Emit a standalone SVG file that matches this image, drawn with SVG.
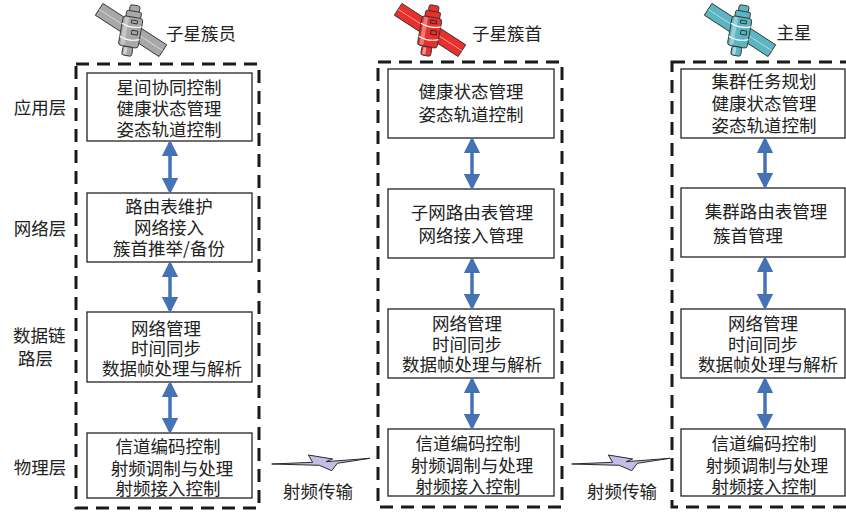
<svg xmlns="http://www.w3.org/2000/svg" xmlns:xlink="http://www.w3.org/1999/xlink" width="846" height="513" viewBox="0 0 846 513">
  <style>
    text { font-family: "Noto Sans CJK SC", "Liberation Serif", serif; font-size: 17.5px; fill: #222; dominant-baseline: central; }
    .c { text-anchor: middle; }
    .frame { fill: none; stroke: #1a1a1a; stroke-width: 3; stroke-dasharray: 13 8; }
    .box { fill: #fff; stroke: #222; stroke-width: 1.3; }
    .link { stroke: #4472b4; stroke-width: 3.5; fill: none; marker-start: url(#head); marker-end: url(#head); }
    .bolt { fill: #c6bce6; stroke: #2a2a2a; stroke-width: 1; stroke-linejoin: miter; }
    .sat-line { stroke: #333; stroke-width: 0.9; }
  </style>
  <defs>
    <marker id="head" viewBox="0 0 10 10" refX="8" refY="5" markerWidth="4.6" markerHeight="4.6" orient="auto-start-reverse" markerUnits="strokeWidth">
      <path d="M0,0 L10,5 L0,10 Z" fill="#4472b4"/>
    </marker>
    <!-- satellite icon, main colour taken from currentColor -->
    <symbol id="sat" viewBox="-40 -30 80 60" overflow="visible">
      <g transform="rotate(33)">
        <rect x="-38" y="-7" width="76" height="14" fill="currentColor" class="sat-line"/>
        <line x1="-38" y1="0" x2="38" y2="0" stroke="#fff" stroke-width="0.8" opacity="0.6"/>
      </g>
      <g transform="rotate(10)">
        <rect x="-5" y="-25" width="10" height="7" rx="2" fill="currentColor" class="sat-line"/>
        <rect x="-7.5" y="-19" width="15" height="7" rx="1.5" fill="currentColor" class="sat-line"/>
        <rect x="-10" y="-13" width="20" height="30" rx="3" fill="currentColor" class="sat-line"/>
        <path d="M-10,-5 Q0,-1 10,-5" fill="none" stroke="#fff" stroke-width="1.2"/>
        <path d="M-10,8 Q0,12 10,8" fill="none" stroke="#fff" stroke-width="1.2"/>
        <rect x="-1" y="-10" width="6" height="3" fill="none" stroke="#222" stroke-width="0.8"/>
        <rect x="1" y="0" width="6" height="4" fill="none" stroke="#222" stroke-width="0.8"/>
        <rect x="-8" y="-12" width="4" height="28" fill="#fff" opacity="0.35"/>
        <rect x="-5" y="17" width="10" height="9" rx="2" fill="currentColor" class="sat-line"/>
        <rect x="-3.5" y="18" width="3" height="7" fill="#fff" opacity="0.5"/>
      </g>
    </symbol>
    <polygon id="zap" points="271.7,464 312.7,462.3 308.3,455 332.7,459 326,461.7 370,458.3 337.3,463.3 331.7,470.7 319.3,465.3"/>
  </defs>

  <!-- layer names -->
  <g id="layer-labels">
    <text x="40" y="106" class="c">应用层</text>
    <text x="40" y="227" class="c">网络层</text>
    <text x="13" y="334">数据链</text>
    <text x="18" y="357">路层</text>
    <text x="40" y="466" class="c">物理层</text>
  </g>

  <!-- satellite headers -->
  <g id="member-head">
    <use xlink:href="#sat" x="91" y="0" width="80" height="60" style="color:#a8a8a8"/>
    <text x="201" y="32" class="c">子星簇员</text>
  </g>
  <g id="head-head">
    <use xlink:href="#sat" x="390" y="0" width="80" height="60" style="color:#e8302c"/>
    <text x="507" y="32" class="c">子星簇首</text>
  </g>
  <g id="master-head">
    <use xlink:href="#sat" x="700" y="0" width="80" height="60" style="color:#5cb6c1"/>
    <text x="794" y="31" class="c">主星</text>
  </g>

  <!-- stack frames -->
  <g id="frames">
    <rect class="frame" x="76" y="64" width="183" height="444"/>
    <rect class="frame" x="378" y="62" width="184" height="445"/>
    <rect class="frame" x="672" y="62" width="190" height="445"/>
  </g>

  <!-- cluster member stack -->
  <g id="member-app">
    <rect class="box" x="87" y="73" width="165" height="68"/>
    <text x="169" y="86" class="c">星间协同控制</text>
    <text x="169" y="107" class="c">健康状态管理</text>
    <text x="169" y="128" class="c">姿态轨道控制</text>
  </g>
  <g id="member-net">
    <rect class="box" x="87" y="193" width="165" height="69"/>
    <text x="169" y="205" class="c">路由表维护</text>
    <text x="169" y="226" class="c">网络接入</text>
    <text x="169" y="247" class="c">簇首推举/备份</text>
  </g>
  <g id="member-link">
    <rect class="box" x="87" y="312" width="165" height="70"/>
    <text x="166" y="327" class="c">网络管理</text>
    <text x="166" y="347" class="c">时间同步</text>
    <text x="172" y="367" class="c">数据帧处理与解析</text>
  </g>
  <g id="member-phy">
    <rect class="box" x="87" y="433" width="165" height="65"/>
    <text x="168" y="445" class="c">信道编码控制</text>
    <text x="172" y="467" class="c">射频调制与处理</text>
    <text x="168" y="487" class="c">射频接入控制</text>
  </g>

  <!-- cluster head stack -->
  <g id="head-app">
    <rect class="box" x="388" y="69" width="166" height="69"/>
    <text x="471" y="90" class="c">健康状态管理</text>
    <text x="471" y="113" class="c">姿态轨道控制</text>
  </g>
  <g id="head-net">
    <rect class="box" x="388" y="189" width="166" height="69"/>
    <text x="472" y="211" class="c">子网路由表管理</text>
    <text x="471" y="234" class="c">网络接入管理</text>
  </g>
  <g id="head-link">
    <rect class="box" x="388" y="309" width="166" height="69"/>
    <text x="467" y="322" class="c">网络管理</text>
    <text x="467" y="343" class="c">时间同步</text>
    <text x="472" y="363" class="c">数据帧处理与解析</text>
  </g>
  <g id="head-phy">
    <rect class="box" x="388" y="429" width="166" height="67"/>
    <text x="468" y="442" class="c">信道编码控制</text>
    <text x="472" y="464" class="c">射频调制与处理</text>
    <text x="468" y="485" class="c">射频接入控制</text>
  </g>

  <!-- master stack -->
  <g id="master-app">
    <rect class="box" x="681" y="69" width="164" height="69"/>
    <text x="764" y="80" class="c">集群任务规划</text>
    <text x="764" y="102" class="c">健康状态管理</text>
    <text x="764" y="124" class="c">姿态轨道控制</text>
  </g>
  <g id="master-net">
    <rect class="box" x="681" y="188" width="164" height="69"/>
    <text x="766" y="210" class="c">集群路由表管理</text>
    <text x="748" y="234" class="c">簇首管理</text>
  </g>
  <g id="master-link">
    <rect class="box" x="681" y="309" width="164" height="69"/>
    <text x="763" y="322" class="c">网络管理</text>
    <text x="763" y="343" class="c">时间同步</text>
    <text x="768" y="363" class="c">数据帧处理与解析</text>
  </g>
  <g id="master-phy">
    <rect class="box" x="681" y="429" width="164" height="67"/>
    <text x="764" y="442" class="c">信道编码控制</text>
    <text x="767" y="464" class="c">射频调制与处理</text>
    <text x="764" y="485" class="c">射频接入控制</text>
  </g>

  <!-- inter-layer links and radio hops -->
  <g id="connectors">
    <line class="link" x1="170" y1="143" x2="170" y2="191"/>
    <line class="link" x1="170" y1="264" x2="170" y2="310"/>
    <line class="link" x1="170" y1="384" x2="170" y2="431"/>

    <line class="link" x1="472" y1="140" x2="472" y2="187"/>
    <line class="link" x1="472" y1="260" x2="472" y2="307"/>
    <line class="link" x1="472" y1="380" x2="472" y2="427"/>

    <line class="link" x1="765" y1="140" x2="765" y2="186"/>
    <line class="link" x1="765" y1="259" x2="765" y2="307"/>
    <line class="link" x1="765" y1="380" x2="765" y2="427"/>

    <use xlink:href="#zap" class="bolt"/>
    <use xlink:href="#zap" class="bolt" transform="translate(300,0)"/>
    <text x="318" y="490" class="c">射频传输</text>
    <text x="622" y="490" class="c">射频传输</text>
  </g>
</svg>
